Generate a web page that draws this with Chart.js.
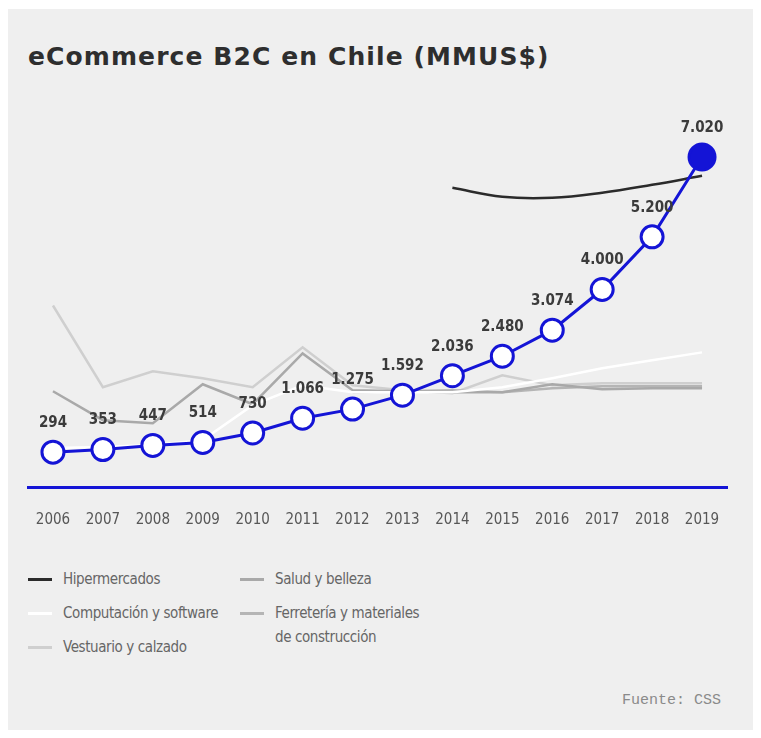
<!DOCTYPE html>
<html>
<head>
<meta charset="utf-8">
<script src="https://cdn.jsdelivr.net/npm/chart.js@4/dist/chart.umd.min.js"></script>
<style>
  html, body { margin: 0; padding: 0; background: #fff; }
  #panel { position: absolute; left: 8px; top: 9px; width: 745px; height: 721px; background: #efefef; }
  #title { position: absolute; left: 28px; top: 42px; margin: 0; font: bold 25px "DejaVu Sans", sans-serif; color: #2e2e2e; letter-spacing: 1.1px; }
  #wrap { position: absolute; left: 0; top: 0; width: 761px; height: 559px; }
  .leg { position: absolute; font: 15px "DejaVu Sans Condensed", Roboto, sans-serif; color: #666; line-height: 24px; letter-spacing: -0.4px; }
  .sw { position: absolute; width: 24px; height: 3px; }
  #src { position: absolute; left: 622px; top: 692px; font: 15px "Liberation Mono", monospace; color: #8a8a8a; }
</style>
</head>
<body>
<div id="panel"></div>
<h1 id="title">eCommerce B2C en Chile (MMUS$)</h1>
<div id="wrap"><canvas id="chart"></canvas></div>

<div class="sw" style="left:28px;top:578px;background:#2b2b2b"></div>
<div class="leg" style="left:63px;top:567px">Hipermercados</div>
<div class="sw" style="left:28px;top:612px;background:#fff"></div>
<div class="leg" style="left:63px;top:601px">Computación y software</div>
<div class="sw" style="left:28px;top:646px;background:#cfcfcf"></div>
<div class="leg" style="left:63px;top:635px">Vestuario y calzado</div>
<div class="sw" style="left:240px;top:578px;background:#a9a9a9"></div>
<div class="leg" style="left:275px;top:567px">Salud y belleza</div>
<div class="sw" style="left:240px;top:612px;background:#b5b5b5"></div>
<div class="leg" style="left:275px;top:601px">Ferretería y materiales<br>de construcción</div>

<div id="src">Fuente: CSS</div>

<script>
  // values; gray lines are placed on the same scale as the total
  const years = ['2006', '2007', '2008', '2009', '2010', '2011', '2012', '2013', '2014', '2015', '2016', '2017', '2018', '2019'];
  const totalB2C = [294, 353, 447, 514, 730, 1066, 1275, 1592, 2036, 2480, 3074, 4000, 5200, 7020];
  const hipermercados = [null, null, null, null, null, null, null, null, 6318, 6114, 6091, 6205, 6386, 6591];
  const computacion = [386, 409, 455, 568, 1364, 1818, 1659, 1659, 1659, 1773, 1977, 2205, 2386, 2568];
  const vestuario = [3636, 1773, 2136, 1977, 1773, 2682, 1818, 1705, 1636, 2045, 1818, 1864, 1864, 1864];
  const salud = [1682, 1023, 955, 1841, 1386, 2545, 1705, 1682, 1659, 1659, 1841, 1727, 1750, 1750];
  const ferreteria = [null, null, null, null, null, null, 1659, 1682, 1705, 1659, 1750, 1795, 1795, 1795];

  const BLUE = '#1414d6';
  const LABEL_FONT = '"DejaVu Sans Condensed", Roboto, sans-serif';

  const fmtDot = (v) => String(v).replace(/\B(?=(\d{3})+(?!\d))/g, '.');

  // numbers above the blue markers
  const valueLabels = {
    id: 'valueLabels',
    afterDatasetsDraw(chart) {
      const { ctx } = chart;
      const meta = chart.getDatasetMeta(0);
      ctx.save();
      ctx.font = 'bold 15px ' + LABEL_FONT;
      ctx.fillStyle = '#3b3b3b';
      ctx.textAlign = 'center';
      ctx.textBaseline = 'middle';
      meta.data.forEach((pt, i) => {
        ctx.fillText(fmtDot(totalB2C[i]), pt.x, pt.y - 29);
      });
      ctx.restore();
    },
  };

  const grayLine = (data, color, order) => ({
    data, borderColor: color, borderWidth: 2.5, pointRadius: 0, tension: 0, order, spanGaps: false,
  });

  new Chart(document.getElementById('chart'), {
    type: 'line',
    data: {
      labels: years,
      datasets: [
        {
          data: totalB2C,
          borderColor: BLUE,
          borderWidth: 3,
          pointRadius: totalB2C.map((v, i) => i === totalB2C.length - 1 ? 13 : 11),
          pointBackgroundColor: totalB2C.map((v, i) => i === totalB2C.length - 1 ? BLUE : '#fff'),
          pointBorderColor: BLUE,
          pointBorderWidth: 3,
          order: 0,
        },
        { data: hipermercados, borderColor: '#2b2b2b', borderWidth: 2.5, pointRadius: 0, tension: 0.4, order: 1 },
        grayLine(computacion, '#ffffff', 2),
        grayLine(salud, '#a9a9a9', 3),
        grayLine(ferreteria, '#b5b5b5', 4),
        grayLine(vestuario, '#cfcfcf', 5),
      ],
    },
    options: {
      responsive: true,
      maintainAspectRatio: false,
      animation: false,
      layout: { padding: { left: 28, right: 34, top: 114, bottom: 6 } },
      plugins: { legend: { display: false }, tooltip: { enabled: false } },
      scales: {
        x: {
          offset: true,
          grid: { display: false, drawTicks: false },
          border: { display: true, color: BLUE, width: 3 },
          ticks: { padding: 24, color: '#575757', font: { family: LABEL_FONT, size: 15 } },
        },
        y: { display: false, min: -500, max: 8000 },
      },
    },
    plugins: [valueLabels],
  });
</script>
</body>
</html>
